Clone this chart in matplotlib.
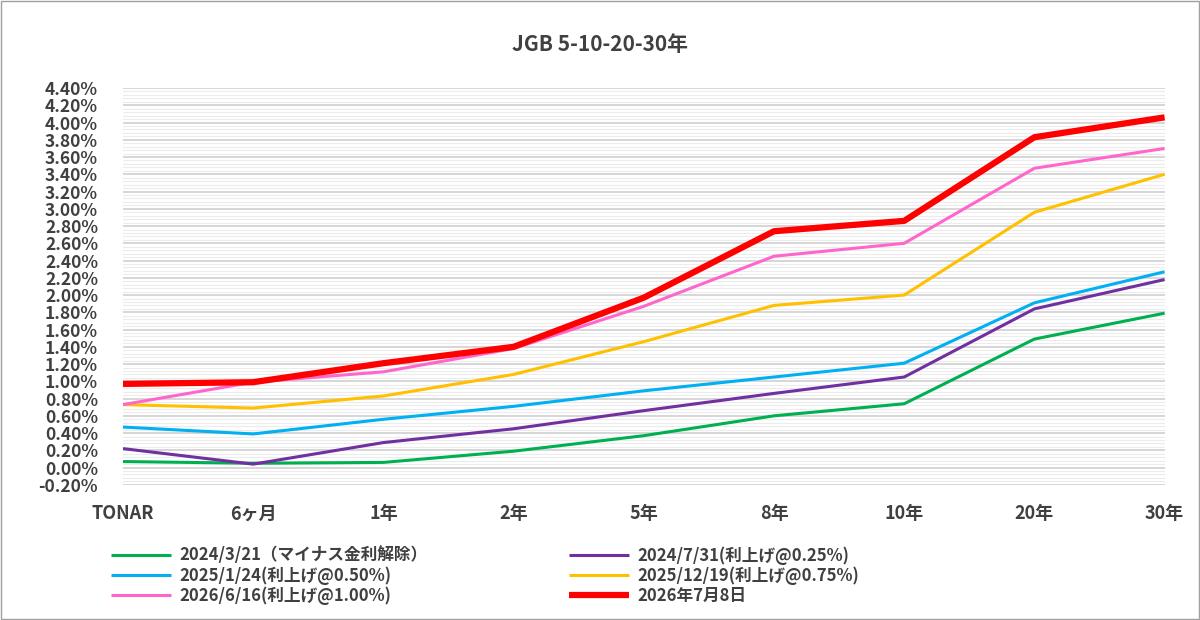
import matplotlib
matplotlib.use("Agg")
import matplotlib.pyplot as plt
import numpy as np
from matplotlib.ticker import MultipleLocator, FuncFormatter

plt.rcParams['font.family'] = ['Noto Sans CJK JP', 'DejaVu Sans']

categories = ["TONAR", "6ヶ月", "1年", "2年", "5年", "8年", "10年", "20年", "30年"]
s_2024_03 = [0.07, 0.05, 0.06, 0.19, 0.37, 0.60, 0.74, 1.49, 1.79]
s_2024_07 = [0.22, 0.04, 0.29, 0.45, 0.66, 0.86, 1.05, 1.84, 2.18]
s_2025_01 = [0.47, 0.39, 0.56, 0.71, 0.89, 1.05, 1.21, 1.91, 2.27]
s_2025_12 = [0.73, 0.69, 0.83, 1.08, 1.46, 1.88, 2.00, 2.96, 3.40]
s_2026_06 = [0.73, 0.99, 1.11, 1.38, 1.87, 2.45, 2.60, 3.47, 3.70]
s_2026_07 = [0.97, 0.99, 1.21, 1.40, 1.97, 2.74, 2.86, 3.83, 4.06]

series = [
    ("2024/3/21（マイナス金利解除）", s_2024_03, "#00b050", 2.2),
    ("2024/7/31(利上げ@0.25%)", s_2024_07, "#7030a0", 2.2),
    ("2025/1/24(利上げ@0.50%)", s_2025_01, "#00b0f0", 2.2),
    ("2025/12/19(利上げ@0.75%)", s_2025_12, "#ffc000", 2.2),
    ("2026/6/16(利上げ@1.00%)", s_2026_06, "#ff66cc", 2.2),
    ("2026年7月8日", s_2026_07, "#ff0000", 4.5),
]

fig = plt.figure(figsize=(12, 6.2), dpi=100)
ax = fig.add_axes([0.1025, 0.218, 0.868, 0.64])
x = np.arange(len(categories))
handles = []
for lab, vals, c, lw in series:
    h, = ax.plot(x, vals, color=c, lw=lw, label=lab, solid_capstyle='butt')
    handles.append(h)

ax.set_xlim(0, len(categories) - 1)
ax.set_ylim(-0.2, 4.4)
ax.yaxis.set_major_locator(MultipleLocator(0.2))
ax.yaxis.set_minor_locator(MultipleLocator(0.04))
ax.yaxis.set_major_formatter(FuncFormatter(lambda v, p: f"{v:.2f}%"))
ax.grid(axis='y', which='major', color='#d0d0d0', lw=1.2)
ax.grid(axis='y', which='minor', color='#ececec', lw=0.8)
ax.set_axisbelow(True)
for s in ax.spines.values():
    s.set_visible(False)
ax.tick_params(axis='y', which='both', length=0, labelsize=12.5, labelcolor='#404040', pad=18)
ax.tick_params(axis='x', length=0, labelsize=13, labelcolor='#404040', pad=14)
ax.set_xticks(x)
ax.set_xticklabels(categories, fontweight='bold')
for t in ax.get_yticklabels():
    t.set_fontweight('bold')

fig.suptitle("JGB 5-10-20-30年", y=0.945, fontsize=15, fontweight='bold', color='#404040')
order = [0, 2, 4, 1, 3, 5]
leg = fig.legend([handles[i] for i in order], [series[i][0] for i in order],
                 loc='lower left', bbox_to_anchor=(0.08, 0.0), ncol=2, frameon=False,
                 prop={'size': 12, 'weight': 'bold'}, handlelength=3.6, handletextpad=0.5,
                 columnspacing=8.5, labelspacing=0.1)
for t in leg.get_texts():
    t.set_color('#404040')
fig.patches.append(plt.Rectangle((0.001, 0.002), 0.998, 0.996, transform=fig.transFigure,
                                 fill=False, edgecolor='#a0a0a0', lw=1))
fig.savefig("out.png")
